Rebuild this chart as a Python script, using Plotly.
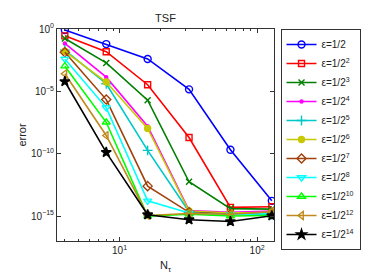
import plotly.graph_objects as go

N = [4, 8, 16, 32, 64, 128]
labels = ["ε=1/2", "ε=1/2<sup>2</sup>", "ε=1/2<sup>3</sup>", "ε=1/2<sup>4</sup>",
          "ε=1/2<sup>5</sup>", "ε=1/2<sup>6</sup>", "ε=1/2<sup>7</sup>", "ε=1/2<sup>8</sup>",
          "ε=1/2<sup>10</sup>", "ε=1/2<sup>12</sup>", "ε=1/2<sup>14</sup>"]
# log10(error) values
log_err = [
    [-0.08, -1.21, -2.40, -4.84, -9.68, -13.78],
    [-0.55, -1.82, -4.47, -8.70, -14.30, -14.25],
    [-0.76, -2.72, -5.71, -12.25, -14.40, -14.44],
    [-1.16, -3.86, -7.80, -14.55, -14.70, -14.60],
    [-1.69, -4.39, -9.73, -14.65, -14.80, -14.90],
    [-1.79, -4.25, -7.97, -14.60, -14.75, -14.70],
    [-1.87, -5.66, -12.60, -14.70, -14.85, -14.75],
    [-2.40, -6.30, -13.78, -14.75, -14.90, -14.80],
    [-2.98, -7.48, -15.00, -14.85, -15.00, -14.95],
    [-3.59, -8.54, -14.95, -14.80, -14.85, -14.65],
    [-4.21, -9.89, -14.89, -15.29, -15.44, -14.97],
]
colors = ["#0000ff", "#ff0000", "#007f00", "#ff00ff", "#00c8c8", "#c8c800",
          "#a0400a", "#00ffff", "#00ff00", "#c08a1e", "#000000"]
symbols = ["circle-open", "square-open", "x-thin-open", "circle", "cross-thin-open", "circle",
           "diamond-open", "triangle-down-open", "triangle-up-open", "triangle-left-open", "star"]
sizes = [7, 6, 6, 3, 7, 6, 7, 7, 7, 7, 7.5]

fig = go.Figure()
for lab, le, c, s, sz in zip(labels, log_err, colors, symbols, sizes):
    fig.add_trace(go.Scatter(
        x=N, y=[10 ** v for v in le], name=lab, mode="lines+markers",
        line=dict(color=c, width=1.6),
        marker=dict(symbol=s, size=sz, color=c, line=dict(color=c, width=1.4)),
    ))

fig.update_layout(
    width=382, height=273,
    margin=dict(l=49, r=116, t=21, b=40),
    paper_bgcolor="white", plot_bgcolor="white",
    font=dict(family="Liberation Sans, Arial", size=10, color="#222"),
    title=dict(text="TSF", x=157.5 / 382, xanchor="center", y=1 - 10 / 273, yanchor="middle",
               font=dict(size=11, color="#222")),
    showlegend=True,
    legend=dict(x=1.03, y=1.0, xanchor="left", yanchor="top",
                bordercolor="#333", borderwidth=1, bgcolor="white",
                font=dict(size=10, color="#222"), tracegroupgap=0, itemwidth=30,
                maxheight=250),
    xaxis=dict(type="log", range=[0.545, 2.123], showgrid=False, zeroline=False,
               showline=True, linecolor="#333", linewidth=1, mirror="allticks",
               ticks="inside", ticklen=4, tickcolor="#333",
               tickvals=[10, 100], ticktext=["10<sup>1</sup>", "10<sup>2</sup>"],
               minor=dict(ticks="inside", ticklen=2, tickcolor="#333",
                          tickvals=[4, 5, 6, 7, 8, 9, 20, 30, 40, 50, 60, 70, 80, 90]),
               title=dict(text="N<sub>τ</sub>", standoff=6, font=dict(size=11))),
    yaxis=dict(type="log", range=[-17, 0], showgrid=False, zeroline=False,
               showline=True, linecolor="#333", linewidth=1, mirror="allticks",
               ticks="inside", ticklen=4, tickcolor="#333",
               tickvals=[1, 1e-5, 1e-10, 1e-15],
               ticktext=["10<sup>0</sup>", "10<sup>−5</sup>", "10<sup>−10</sup>", "10<sup>−15</sup>"],
               title=dict(text="error", standoff=2, font=dict(size=11))),
)

fig.write_html("out.html")
